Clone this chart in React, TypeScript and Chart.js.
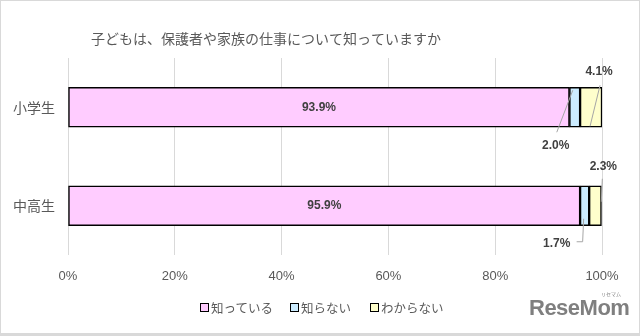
import React, { useEffect, useRef } from 'react';
import { Chart, registerables } from 'chart.js';

Chart.register(...registerables);

const title = '子どもは、保護者や家族の仕事について知っていますか';
const categories = ['小学生', '中高生'];
const seriesNames = ['知っている', '知らない', 'わからない'];
const knows = [93.9, 95.9];
const doesNotKnow = [2.0, 1.7];
const unsure = [4.1, 2.3];
const xTickValues = [0, 20, 40, 60, 80, 100];

const seriesColors = ['#FFCCFF', '#CCECFF', '#FFFFCC'];
const JP = "'Noto Sans CJK JP', 'Noto Sans', sans-serif";
const NUM = "'Liberation Sans', 'Noto Sans', sans-serif";

// label placement (style): offsets relative to segment centre; leader line points
const placements: Record<string, { dx: number; dy: number; line: number[][] }> = {
  '2-0': { dx: 8, dy: -36, line: [[9, -22], [-1, 19]] },
  '1-0': { dx: -19, dy: 38, line: [[-18, 25], [-2, -17]] },
  '2-1': { dx: 8, dy: -39, line: [[7, -27], [6, -4]] },
  '1-1': { dx: -28, dy: 38, line: [[-8, 36], [-2, 36], [-1, 13]] },
};

const dataLabels = {
  id: 'dataLabels',
  afterDatasetsDraw(chart: any) {
    const ctx = chart.ctx;
    chart.data.datasets.forEach((ds: any, d: number) => {
      const meta = chart.getDatasetMeta(d);
      meta.data.forEach((bar: any, c: number) => {
        const { x, y, base } = bar.getProps(['x', 'y', 'base'], true);
        const cx = (x + base) / 2;
        const text = Number(ds.data[c]).toFixed(1) + '%';
        const p = placements[`${d}-${c}`];
        ctx.save();
        ctx.font = `bold 12px ${NUM}`;
        ctx.fillStyle = '#404040';
        ctx.textAlign = 'center';
        ctx.textBaseline = 'middle';
        if (!p) {
          ctx.fillText(text, cx, y);
        } else {
          ctx.strokeStyle = '#a6a6a6';
          ctx.lineWidth = 1;
          ctx.beginPath();
          p.line.forEach(([lx, ly], i) => {
            if (i === 0) ctx.moveTo(cx + lx, y + ly);
            else ctx.lineTo(cx + lx, y + ly);
          });
          ctx.stroke();
          ctx.fillText(text, cx + p.dx, y + p.dy);
        }
        ctx.restore();
      });
    });
  },
};

const titlePlugin = {
  id: 'titleText',
  afterDraw(chart: any) {
    const ctx = chart.ctx;
    ctx.save();
    ctx.font = `14px ${JP}`;
    ctx.fillStyle = '#595959';
    ctx.textAlign = 'center';
    ctx.textBaseline = 'middle';
    ctx.fillText(title, 266, 39);
    ctx.restore();
  },
};

const legendLeft = [200, 290, 370];

export default function App() {
  const ref = useRef<HTMLCanvasElement | null>(null);

  useEffect(() => {
    document.body.style.margin = '0';
    const values = [knows, doesNotKnow, unsure];
    const chart = new Chart(ref.current as HTMLCanvasElement, {
      type: 'bar',
      data: {
        labels: categories,
        datasets: seriesNames.map((name, i) => ({
          label: name,
          data: values[i],
          backgroundColor: seriesColors[i],
          borderColor: '#000000',
          borderWidth: 1.5,
          borderSkipped: false,
          barThickness: 40,
        })),
      },
      options: {
        indexAxis: 'y',
        animation: false,
        responsive: false,
        maintainAspectRatio: false,
        layout: { padding: { top: 58, right: 38, bottom: 51, left: 0 } },
        scales: {
          x: {
            stacked: true,
            min: 0,
            max: 100,
            afterBuildTicks: (scale: any) => {
              scale.ticks = xTickValues.map((v) => ({ value: v }));
            },
            afterFit: (scale: any) => {
              scale.height = 30;
            },
            grid: { color: '#d9d9d9', drawTicks: false, lineWidth: 1 },
            border: { display: false },
            ticks: {
              padding: 14,
              color: '#595959',
              font: { size: 13, family: NUM },
              callback: (v: any) => v + '%',
            },
          },
          y: {
            stacked: true,
            grid: { display: false, drawTicks: false },
            border: { display: false },
            afterFit: (scale: any) => {
              scale.width = 68;
            },
            ticks: {
              padding: 13,
              color: '#595959',
              font: { size: 14, family: JP },
            },
          },
        },
        plugins: {
          title: { display: false },
          legend: { display: false },
          tooltip: { enabled: false },
        },
      },
      plugins: [dataLabels, titlePlugin],
    } as any);
    return () => chart.destroy();
  }, []);

  return (
    <div style={{ position: 'relative', width: 640, height: 336, background: '#ffffff', overflow: 'hidden' }}>
      <canvas ref={ref} width={640} height={336} style={{ display: 'block', width: 640, height: 336 }} />
      {seriesNames.map((name, i) => (
        <div
          key={name}
          style={{
            position: 'absolute',
            left: legendLeft[i],
            top: 298,
            height: 18,
            display: 'flex',
            alignItems: 'center',
            fontFamily: JP,
            fontSize: 12.5,
            color: '#595959',
            whiteSpace: 'nowrap',
          }}
        >
          <span
            style={{
              display: 'inline-block',
              width: 7,
              height: 7,
              border: '1.5px solid #000',
              background: seriesColors[i],
              marginRight: 2,
            }}
          />
          {name}
        </div>
      ))}
      <div
        style={{
          position: 'absolute',
          left: 529,
          top: 296,
          fontFamily: NUM,
          fontWeight: 'bold',
          fontSize: 22,
          color: '#7f7f7f',
          letterSpacing: -0.5,
          lineHeight: '24px',
        }}
      >
        ReseMom
      </div>
      <div
        style={{
          position: 'absolute',
          left: 601,
          top: 291,
          fontFamily: JP,
          fontSize: 5,
          color: '#7f7f7f',
          lineHeight: '6px',
        }}
      >
        リセマム
      </div>
      <div
        style={{
          position: 'absolute',
          inset: 0,
          borderTop: '1px solid #d9d9d9',
          borderLeft: '1px solid #d9d9d9',
          borderRight: '1px solid #d9d9d9',
          borderBottom: '3px solid #d9d9d9',
          pointerEvents: 'none',
        }}
      />
    </div>
  );
}
